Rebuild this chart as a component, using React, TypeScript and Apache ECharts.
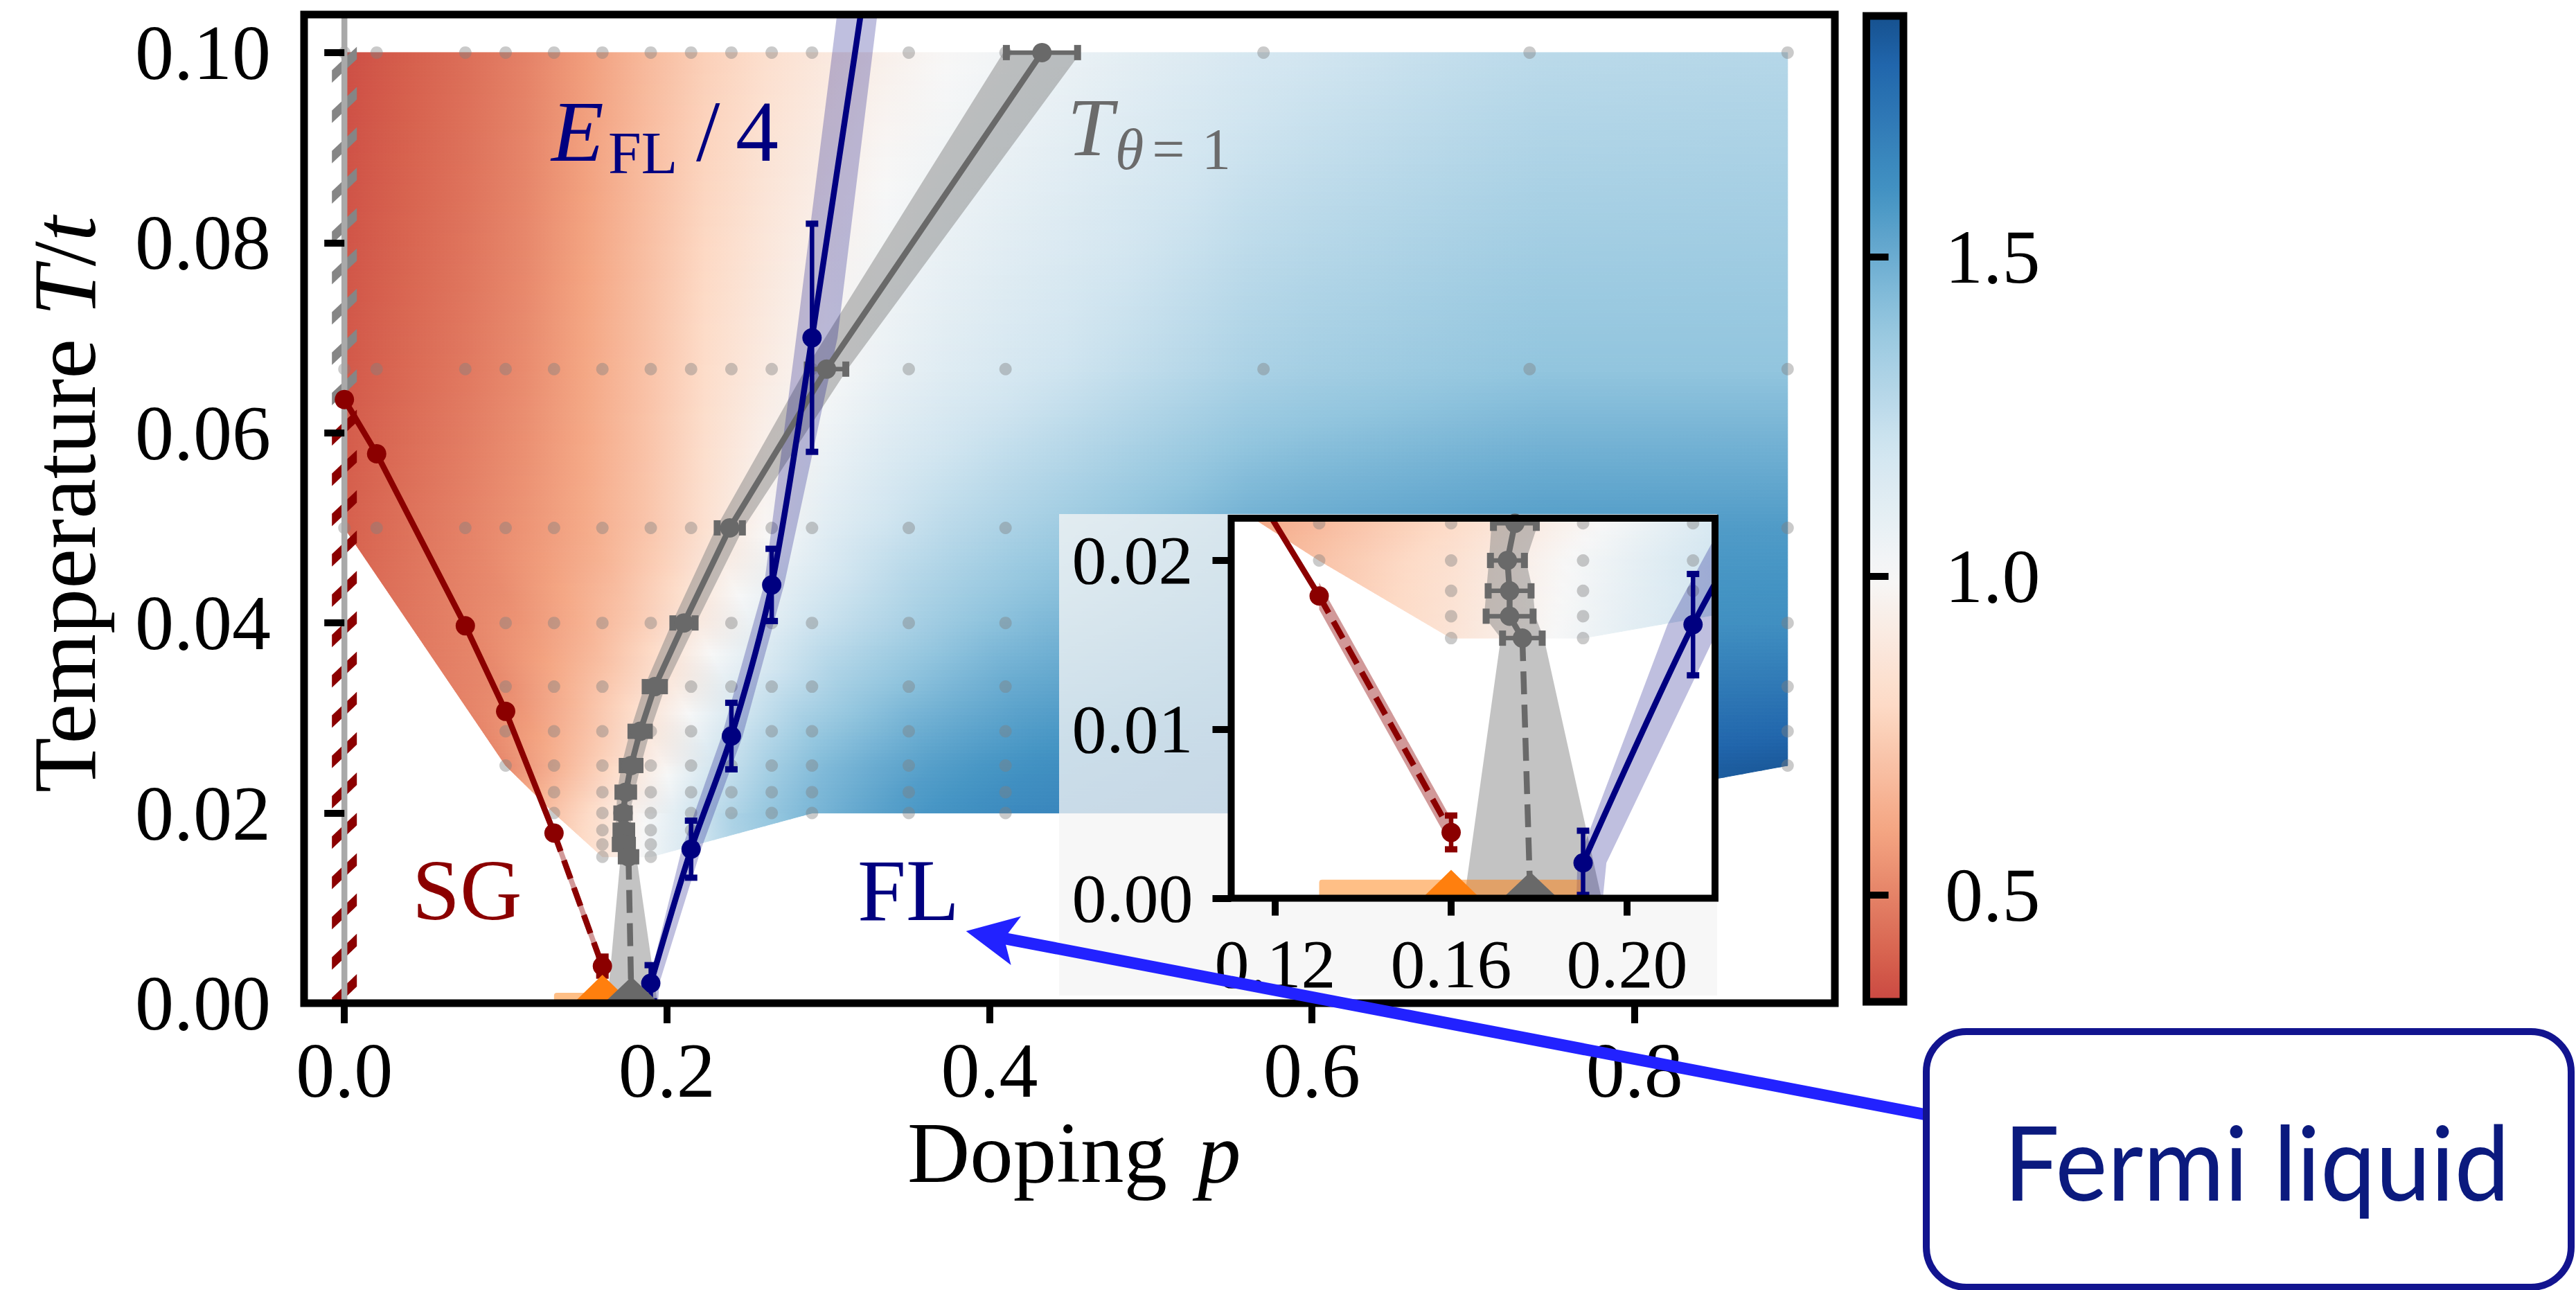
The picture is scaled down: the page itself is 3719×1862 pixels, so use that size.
import React, { useEffect, useRef } from 'react';
import * as echarts from 'echarts';

const SERIF = '"Liberation Serif", "Times New Roman", serif';
const SANS = 'Lato, "Noto Sans", sans-serif';
const GRAY = '#696969';
const NAVY = '#000080';
const DRED = '#8b0000';
const ORANGE = '#ff7f0e';

// ---------- axis ranges & ticks ----------
const mainX = [-0.025, 0.9243];
const mainY = [0, 0.104];
const insetX = [0.11, 0.22];
const insetY = [0, 0.0225];
const cbarRange = [0.333, 1.878];
const mainXTicks = [0, 0.2, 0.4, 0.6, 0.8];
const mainYTicks = [0, 0.02, 0.04, 0.06, 0.08, 0.1];
const insetXTicks = [0.12, 0.16, 0.2];
const insetYTicks = [0, 0.01, 0.02];
const cbarTicks = [0.5, 1.0, 1.5];

// ---------- simulation grid points (gray dots) ----------
const dotRowT = [0.1, 0.0667, 0.05, 0.04, 0.0333, 0.0286, 0.025, 0.0222, 0.02, 0.0182, 0.0167, 0.0154];
const dotRowP = [
  [0, 0.02, 0.075, 0.1, 0.13, 0.16, 0.19, 0.215, 0.24, 0.265, 0.29, 0.35, 0.41, 0.57, 0.735, 0.895],
  [0, 0.02, 0.075, 0.1, 0.13, 0.16, 0.19, 0.215, 0.24, 0.265, 0.29, 0.35, 0.41, 0.57, 0.735, 0.895],
  [0, 0.02, 0.075, 0.1, 0.13, 0.16, 0.19, 0.215, 0.24, 0.265, 0.29, 0.35, 0.41, 0.57, 0.735, 0.895],
  [0.075, 0.1, 0.13, 0.16, 0.19, 0.215, 0.24, 0.265, 0.29, 0.35, 0.41, 0.57, 0.735, 0.895],
  [0.1, 0.13, 0.16, 0.19, 0.215, 0.24, 0.265, 0.29, 0.35, 0.41, 0.57, 0.735, 0.895],
  [0.1, 0.13, 0.16, 0.19, 0.215, 0.24, 0.265, 0.29, 0.35, 0.41, 0.57, 0.735, 0.895],
  [0.1, 0.13, 0.16, 0.19, 0.215, 0.24, 0.265, 0.29, 0.35, 0.41, 0.57, 0.735, 0.895],
  [0.13, 0.16, 0.19, 0.215, 0.24, 0.265, 0.29, 0.35, 0.41, 0.57, 0.735],
  [0.13, 0.16, 0.19, 0.215, 0.24, 0.265, 0.29, 0.35, 0.41, 0.57, 0.735],
  [0.16, 0.19, 0.215],
  [0.16, 0.19],
  [0.16, 0.19],
];

// ---------- colour field (value on a coarse grid) ----------
const fieldP = [0, 0.1, 0.16, 0.2, 0.24, 0.29, 0.35, 0.41, 0.57, 0.735, 0.9];
const fieldT = [0.0154, 0.02, 0.025, 0.04, 0.05, 0.0667, 0.1];
const fieldV = [
  [0.5, 0.6, 0.86, 1.1, 1.3, 1.45, 1.58, 1.65, 1.72, 1.78, 1.86],
  [0.45, 0.58, 0.84, 1.08, 1.32, 1.46, 1.58, 1.64, 1.72, 1.8, 1.87],
  [0.43, 0.52, 0.76, 0.98, 1.26, 1.43, 1.54, 1.6, 1.7, 1.78, 1.85],
  [0.42, 0.53, 0.67, 0.8, 1.02, 1.21, 1.33, 1.43, 1.56, 1.6, 1.62],
  [0.4, 0.53, 0.64, 0.75, 0.9, 1.1, 1.24, 1.32, 1.5, 1.56, 1.57],
  [0.38, 0.5, 0.63, 0.74, 0.86, 0.98, 1.1, 1.17, 1.33, 1.4, 1.4],
  [0.35, 0.47, 0.6, 0.71, 0.79, 0.88, 0.97, 1.03, 1.18, 1.27, 1.29],
];
// outline of the sampled region
const hullP = [0, 0.895, 0.895, 0.735, 0.29, 0.19, 0.16, 0.13, 0.1, 0];
const hullT = [0.1, 0.1, 0.025, 0.02, 0.02, 0.0154, 0.0154, 0.02, 0.025, 0.05];

// ---------- SG line ----------
const sgP = [0, 0.02, 0.075, 0.1, 0.13, 0.16];
const sgT = [0.0635, 0.0578, 0.0397, 0.0307, 0.0179, 0.0039];
const sgErr = [0, 0, 0, 0, 0, 0.001];
const sgBandP = [0.13, 0.16];
const sgBandLo = [0.0171, 0.0031];
const sgBandHi = [0.0187, 0.0047];

// ---------- T_theta=1 line ----------
const thP = [0.4326, 0.299, 0.239, 0.2106, 0.1925, 0.1834, 0.1778, 0.1745, 0.1728, 0.1733, 0.1733, 0.1762];
const thT = [0.1, 0.0667, 0.05, 0.04, 0.0333, 0.0286, 0.025, 0.0222, 0.02, 0.0182, 0.0167, 0.0154];
const thErr = [0.024, 0.013, 0.0085, 0.0075, 0.0065, 0.0062, 0.006, 0.0053, 0.0042, 0.0053, 0.0058, 0.0049];
const thEndP = [0.1762, 0.178];
const thEndT = [0.0154, 0];
const thBottomP = 0.1786;
const thBottomW = 0.0156;

// ---------- E_FL/4 line ----------
const eP = [0.19, 0.215, 0.24, 0.265, 0.29, 0.35];
const eT = [0.0021, 0.0162, 0.0281, 0.044, 0.07, 0.138];
const eErr = [0.0019, 0.003, 0.0035, 0.0038, 0.012, 0];
const eBandT = [0, 0.0021, 0.0162, 0.0281, 0.044, 0.07, 0.104, 0.14];
const eBandC = [0.1915, 0.192, 0.2152, 0.2405, 0.2665, 0.293, 0.318, 0.352];
const eBandW = [0.003, 0.0033, 0.006, 0.0065, 0.0062, 0.0128, 0.0125, 0.012];

// ---------- T=0 markers ----------
const qcpP = [0.16, 0.178];
const orangeBarP = [0.13, 0.19];
const orangeBarT = [-0.0011, 0.0011];

// ---------- hatch at p=0 ----------
const hatchFrom = [0, 0.0635];
const hatchTo = [0.0635, 0.1];

// ---------- layout ----------
const MAIN = { left: 439, top: 21, width: 2210, height: 1427 };
const INSET = { left: 1777.5, top: 748, width: 698.5, height: 548.6 };
const CBAR = { left: 2694.5, top: 23, width: 53.5, height: 1423 };
const LW = 8.5;

// ---------- colour map (RdBu, norm 0..2) ----------
const RDBU = ['#67001f', '#b2182b', '#d6604d', '#f4a582', '#fddbc7', '#f7f7f7', '#d1e5f0', '#92c5de', '#4393c3', '#2166ac', '#053061'];
const hex = (h: string) => [1, 3, 5].map((i) => parseInt(h.slice(i, i + 2), 16));
const RGB = RDBU.map(hex);
function cmap(v: number) {
  const x = Math.min(1, Math.max(0, v / 2)) * 10;
  const i = Math.min(9, Math.floor(x));
  const f = x - i;
  const a = RGB[i], b = RGB[i + 1];
  const c = a.map((u, k) => Math.round(u + (b[k] - u) * f));
  return `rgb(${c[0]},${c[1]},${c[2]})`;
}
function seg(arr: number[], x: number): [number, number] {
  if (x <= arr[0]) return [0, 0];
  if (x >= arr[arr.length - 1]) return [arr.length - 2, 1];
  let i = 0;
  while (i < arr.length - 2 && x > arr[i + 1]) i++;
  return [i, (x - arr[i]) / (arr[i + 1] - arr[i])];
}
function fieldValue(p: number, t: number) {
  const [ix, fx] = seg(fieldP, p);
  const [iy, fy] = seg(fieldT, t);
  const v00 = fieldV[iy][ix], v01 = fieldV[iy][ix + 1];
  const v10 = fieldV[iy + 1][ix], v11 = fieldV[iy + 1][ix + 1];
  const a = v00 + (v01 - v00) * fx;
  const b = v10 + (v11 - v10) * fx;
  return a + (b - a) * fy;
}
function crossings(t: number) {
  const xs: number[] = [];
  const n = hullP.length;
  for (let i = 0; i < n; i++) {
    const j = (i + 1) % n;
    const t1 = hullT[i], t2 = hullT[j];
    if ((t1 - t) * (t2 - t) < 0) {
      xs.push(hullP[i] + ((t - t1) / (t2 - t1)) * (hullP[j] - hullP[i]));
    }
  }
  return xs.sort((a, b) => a - b);
}

const makeFieldRender = (pr: number[], tr: number[]) => (params: any, api: any) => {
  const pxPerT = Math.abs(api.size([0, 1])[1]);
  const t0 = Math.max(tr[0], Math.min(...hullT));
  const t1 = Math.min(tr[1], Math.max(...hullT));
  const step = 5 / pxPerT;
  const levels: number[] = [];
  for (let t = t0; t < t1; t += step) levels.push(t);
  levels.push(t1);
  hullT.forEach((t) => { if (t > t0 && t < t1) levels.push(t); });
  levels.sort((a, b) => a - b);
  const children: any[] = [];
  for (let k = 0; k < levels.length - 1; k++) {
    const ta = levels[k], tb = levels[k + 1];
    if (tb - ta < 1e-9) continue;
    const ca = crossings(ta + 1e-9), cb = crossings(tb - 1e-9);
    if (ca.length !== cb.length) continue;
    const tm = (ta + tb) / 2;
    for (let j = 0; j + 1 < ca.length; j += 2) {
      const pts = [api.coord([ca[j], ta]), api.coord([ca[j + 1], ta]), api.coord([cb[j + 1], tb]), api.coord([cb[j], tb])];
      const pa = Math.max(pr[0], Math.min(ca[j], cb[j]));
      const pb = Math.min(pr[1], Math.max(ca[j + 1], cb[j + 1]));
      if (pb <= pa) continue;
      const xa = api.coord([pa, tm])[0], xb = api.coord([pb, tm])[0];
      const N = 24;
      const stops: any[] = [];
      for (let s = 0; s <= N; s++) {
        const p = pa + ((pb - pa) * s) / N;
        stops.push({ offset: s / N, color: cmap(fieldValue(p, tm)) });
      }
      const grad = { type: 'linear', x: xa, y: 0, x2: xb, y2: 0, colorStops: stops, global: true };
      children.push({ type: 'polygon', shape: { points: pts }, style: { fill: grad, stroke: grad, lineWidth: 1 } });
    }
  }
  return { type: 'group', children };
};

const polyRender = (pts: number[][], fill: string) => (params: any, api: any) => ({
  type: 'polygon',
  shape: { points: pts.map((q) => api.coord(q)) },
  style: { fill },
});

const vErrRender = (color: string) => (params: any, api: any) => {
  const p = api.value(0), t = api.value(1), e = api.value(2);
  const a = api.coord([p, t + e]), b = api.coord([p, t - e]);
  const hw = 9;
  return {
    type: 'group',
    children: [
      { type: 'line', shape: { x1: a[0], y1: a[1], x2: b[0], y2: b[1] }, style: { stroke: color, lineWidth: 6.5 } },
      { type: 'line', shape: { x1: a[0] - hw, y1: a[1], x2: a[0] + hw, y2: a[1] }, style: { stroke: color, lineWidth: 9 } },
      { type: 'line', shape: { x1: b[0] - hw, y1: b[1], x2: b[0] + hw, y2: b[1] }, style: { stroke: color, lineWidth: 9 } },
    ],
  };
};
const hErrRender = (color: string) => (params: any, api: any) => {
  const p = api.value(0), t = api.value(1), e = api.value(2);
  const a = api.coord([p - e, t]), b = api.coord([p + e, t]);
  const hh = 11;
  return {
    type: 'group',
    children: [
      { type: 'line', shape: { x1: a[0], y1: a[1], x2: b[0], y2: b[1] }, style: { stroke: color, lineWidth: 6.5 } },
      { type: 'line', shape: { x1: a[0], y1: a[1] - hh, x2: a[0], y2: a[1] + hh }, style: { stroke: color, lineWidth: 10 } },
      { type: 'line', shape: { x1: b[0], y1: b[1] - hh, x2: b[0], y2: b[1] + hh }, style: { stroke: color, lineWidth: 10 } },
    ],
  };
};
const triRender = (params: any, api: any) => {
  const p = api.value(0);
  const idx = params.dataIndex;
  const c = api.coord([p, 0]);
  const apex = idx === 0 ? 41 : 38;
  const hb = idx === 0 ? 42 : 40;
  return {
    type: 'polygon',
    shape: { points: [[c[0] - hb, c[1]], [c[0], c[1] - apex], [c[0] + hb, c[1]]] },
    style: { fill: idx === 0 ? ORANGE : GRAY },
  };
};
const hatchRender = (params: any, api: any) => {
  const tA = api.value(0), tB = api.value(1);
  const color = params.dataIndex === 0 ? DRED : '#858585';
  const o = api.coord([0, 0]);
  const yA = api.coord([0, tA])[1], yB = api.coord([0, tB])[1];
  const x0 = o[0];
  const children: any[] = [];
  for (let k = 0; k < 40; k++) {
    const yr = o[1] - 33 - k * 58.2;
    const yc = yr + 17;
    if (yc > yA || yc < yB) continue;
    children.push({
      type: 'polygon',
      shape: { points: [[x0 - 18, yr + 34 - 9], [x0 - 18, yr + 34 + 9], [x0 + 18, yr + 9], [x0 + 18, yr - 9]] },
      style: { fill: color },
    });
  }
  return { type: 'group', children };
};

const dotData: number[][] = [];
dotRowT.forEach((t, i) => dotRowP[i].forEach((p) => dotData.push([p, t])));

function thetaBandPts() {
  const pts: number[][] = [[thBottomP - thBottomW, 0]];
  for (let i = thP.length - 1; i >= 0; i--) pts.push([thP[i] - thErr[i], thT[i]]);
  for (let i = 0; i < thP.length; i++) pts.push([thP[i] + thErr[i], thT[i]]);
  pts.push([thBottomP + thBottomW, 0]);
  return pts;
}
function eBandPts() {
  const pts: number[][] = [];
  for (let i = 0; i < eBandT.length; i++) pts.push([eBandC[i] - eBandW[i], eBandT[i]]);
  for (let i = eBandT.length - 1; i >= 0; i--) pts.push([eBandC[i] + eBandW[i], eBandT[i]]);
  return pts;
}
function sgBandPts() {
  return [[sgBandP[0], sgBandHi[0]], [sgBandP[1], sgBandHi[1]], [sgBandP[1], sgBandLo[1]], [sgBandP[0], sgBandLo[0]]];
}

function plotSeries(ax: number, zb: number, pr: number[], tr: number[], withHatch: boolean) {
  const c = { xAxisIndex: ax, yAxisIndex: ax, silent: true, animation: false };
  const list: any[] = [
    { ...c, type: 'custom', z: zb + 1, clip: true, data: [[0, 0]], renderItem: makeFieldRender(pr, tr) },
    { ...c, type: 'scatter', z: zb + 2, data: dotData, symbolSize: 18, itemStyle: { color: 'rgba(128,128,128,0.52)' } },
  ];
  if (withHatch) {
    list.push({ ...c, type: 'custom', z: zb + 3, clip: true, data: hatchFrom.map((f, i) => [f, hatchTo[i]]), renderItem: hatchRender });
    list.push({ ...c, type: 'line', z: zb + 3, data: [[0, 0], [0, 0.104]], symbol: 'none', lineStyle: { color: '#a9a9a9', width: 8.5 } });
  }
  list.push(
    { ...c, type: 'custom', z: zb + 4, clip: true, data: [[0, 0]], renderItem: polyRender(thetaBandPts(), 'rgba(128,128,128,0.47)') },
    { ...c, type: 'custom', z: zb + 4, clip: true, data: [[0, 0]], renderItem: polyRender(eBandPts(), 'rgba(0,0,128,0.25)') },
    { ...c, type: 'custom', z: zb + 4, clip: true, data: [[0, 0]], renderItem: polyRender(sgBandPts(), 'rgba(139,0,0,0.4)') },
    {
      ...c, type: 'custom', z: zb + 5, clip: true, data: [[0, 0]],
      renderItem: (params: any, api: any) => {
        const a = api.coord([orangeBarP[0], orangeBarT[1]]), b = api.coord([orangeBarP[1], orangeBarT[0]]);
        return { type: 'rect', shape: { x: a[0], y: a[1], width: b[0] - a[0], height: b[1] - a[1], r: 4 }, style: { fill: 'rgba(255,127,14,0.5)' } };
      },
    },
    // theta line
    { ...c, type: 'line', z: zb + 6, clip: true, data: thP.map((p, i) => [p, thT[i]]), symbol: 'circle', symbolSize: 28, showSymbol: true, lineStyle: { color: GRAY, width: LW }, itemStyle: { color: GRAY } },
    { ...c, type: 'line', z: zb + 6, clip: true, data: thEndP.map((p, i) => [p, thEndT[i]]), symbol: 'none', lineStyle: { color: GRAY, width: LW, type: [33, 15] } },
    { ...c, type: 'custom', z: zb + 6, clip: true, data: thP.map((p, i) => [p, thT[i], thErr[i] * 0.92]), renderItem: hErrRender(GRAY) },
    // SG line
    { ...c, type: 'line', z: zb + 6, clip: true, data: sgP.slice(0, 5).map((p, i) => [p, sgT[i]]), symbol: 'circle', symbolSize: 28, showSymbol: true, lineStyle: { color: DRED, width: LW }, itemStyle: { color: DRED } },
    { ...c, type: 'line', z: zb + 6, clip: true, data: [{ value: [sgP[4], sgT[4]], symbol: 'none' }, [sgP[5], sgT[5]]], symbol: 'circle', symbolSize: 28, showSymbol: true, lineStyle: { color: DRED, width: LW, type: [28, 14] }, itemStyle: { color: DRED } },
    { ...c, type: 'custom', z: zb + 6, clip: true, data: sgP.map((p, i) => [p, sgT[i], sgErr[i]]).filter((d) => d[2] > 0), renderItem: vErrRender(DRED) },
    // E_FL/4 line
    { ...c, type: 'line', z: zb + 7, clip: true, smooth: 0.3, data: eP.map((p, i) => (i === eP.length - 1 ? { value: [p, eT[i]], symbol: 'none' } : [p, eT[i]])), symbol: 'circle', symbolSize: 28, showSymbol: true, lineStyle: { color: NAVY, width: LW }, itemStyle: { color: NAVY } },
    { ...c, type: 'custom', z: zb + 7, clip: true, data: eP.map((p, i) => [p, eT[i], eErr[i]]).filter((d) => d[2] > 0), renderItem: vErrRender(NAVY) },
    // T=0 triangles
    { ...c, type: 'custom', z: zb + 8, clip: true, data: qcpP.map((p) => [p, 0]), renderItem: triRender },
  );
  return list;
}

const valAxis = (gridIndex: number, min: number, max: number, ticks: number[], dec: number, fs: number, margin: number, len: number, z: number, extra: any = {}) => ({
  type: 'value', gridIndex, min, max, z,
  axisLine: { show: false },
  splitLine: { show: false },
  axisTick: { show: true, inside: false, length: len, customValues: ticks, lineStyle: { color: '#000', width: 10 } },
  axisLabel: { show: true, customValues: ticks, formatter: (v: number) => v.toFixed(dec), fontFamily: SERIF, fontSize: fs, color: '#000', margin },
  ...extra,
});

const txt = (text: string, x: number, y: number, fs: number, fill: string, italic = false, extra: any = {}) => ({
  type: 'text', x, y, z: 9,
  style: { text, fontSize: fs, fontFamily: SERIF, fontStyle: italic ? 'italic' : 'normal', fill, align: 'left', verticalAlign: 'middle', ...extra },
});

function buildOption() {
  const cbarSeries = {
    type: 'custom', xAxisIndex: 2, yAxisIndex: 2, z: 2, silent: true, data: [[0, 0]],
    renderItem: (params: any, api: any) => {
      const a = api.coord([0, cbarRange[1]]), b = api.coord([1, cbarRange[0]]);
      const stops: any[] = [];
      for (let s = 0; s <= 40; s++) {
        const v = cbarRange[1] - ((cbarRange[1] - cbarRange[0]) * s) / 40;
        stops.push({ offset: s / 40, color: cmap(v) });
      }
      return { type: 'rect', shape: { x: a[0], y: a[1], width: b[0] - a[0], height: b[1] - a[1] }, style: { fill: new echarts.graphic.LinearGradient(0, 0, 0, 1, stops) } };
    },
  };
  const tip = [1394.7, 1343.9];
  const u = [0.982, 0.188];
  const n = [-0.188, 0.982];
  const head = [
    tip,
    [tip[0] + 74 * u[0] - 36 * n[0], tip[1] + 74 * u[1] - 36 * n[1]],
    [tip[0] + 56 * u[0], tip[1] + 56 * u[1]],
    [tip[0] + 73 * u[0] + 36 * n[0], tip[1] + 73 * u[1] + 36 * n[1]],
  ];
  return {
    animation: false,
    backgroundColor: '#ffffff',
    grid: [
      { left: MAIN.left, top: MAIN.top, width: MAIN.width, height: MAIN.height, show: false },
      { left: INSET.left, top: INSET.top, width: INSET.width, height: INSET.height, show: true, backgroundColor: '#ffffff', borderWidth: 0, z: 16 },
      { left: CBAR.left, top: CBAR.top, width: CBAR.width, height: CBAR.height, show: false },
    ],
    xAxis: [
      valAxis(0, mainX[0], mainX[1], mainXTicks, 1, 112, 41, 29, 10),
      valAxis(1, insetX[0], insetX[1], insetXTicks, 2, 100, 45, 25, 30),
      { type: 'value', gridIndex: 2, min: 0, max: 1, show: false },
    ],
    yAxis: [
      valAxis(0, mainY[0], mainY[1], mainYTicks, 2, 112, 48, 29, 10),
      valAxis(1, insetY[0], insetY[1], insetYTicks, 2, 100, 55, 27, 30),
      valAxis(2, cbarRange[0], cbarRange[1], cbarTicks, 1, 110, 60, 32, 10, { position: 'right' }),
    ],
    series: [
      ...plotSeries(0, 0, [mainX[0], mainX[1]], [mainY[0], mainY[1]], true),
      ...plotSeries(1, 20, [0.105, 0.225], [0, 0.023], false),
      cbarSeries,
    ],
    graphic: [
      // frames
      { type: 'rect', z: 12, shape: { x: MAIN.left, y: MAIN.top, width: MAIN.width, height: MAIN.height }, style: { fill: 'none', stroke: '#000', lineWidth: 11 } },
      { type: 'rect', z: 12, shape: { x: CBAR.left, y: CBAR.top, width: CBAR.width, height: CBAR.height }, style: { fill: 'none', stroke: '#000', lineWidth: 11 } },
      { type: 'rect', z: 15, shape: { x: 1529, y: 742, width: 950, height: 695 }, style: { fill: 'rgba(245,245,245,0.77)' } },
      { type: 'rect', z: 29, shape: { x: INSET.left, y: INSET.top, width: INSET.width, height: INSET.height }, style: { fill: 'none', stroke: '#000', lineWidth: 10 } },
      // in-plot labels
      txt('E', 796, 190, 124, NAVY, true),
      txt('FL', 878, 221, 86, NAVY),
      txt('/', 1005, 190, 124, NAVY),
      txt('4', 1062, 190, 124, NAVY),
      txt('T', 1541, 184, 119, '#6b6b6b', true),
      txt('θ', 1610, 215, 84, '#6b6b6b', true),
      txt('=', 1687, 215, 84, '#6b6b6b', false, { align: 'center' }),
      txt('1', 1735, 215, 84, '#6b6b6b'),
      txt('SG', 595, 1285, 124, DRED),
      txt('FL', 1238, 1285, 126, NAVY),
      // axis titles
      txt('Doping', 1310, 1664, 125, '#000'),
      txt('p', 1729, 1664, 125, '#000', true),
      {
        type: 'text', x: 93, y: 728, rotation: Math.PI / 2, z: 9,
        style: {
          text: '{a|Temperature }{b|T}{a|/}{b|t}',
          align: 'center', verticalAlign: 'middle', fill: '#000',
          rich: {
            a: { fontFamily: SERIF, fontSize: 130, fill: '#000' },
            b: { fontFamily: SERIF, fontSize: 130, fontStyle: 'italic', fill: '#000' },
          },
        },
      },
      // arrow + Fermi liquid box
      { type: 'line', z: 50, shape: { x1: tip[0] + 50 * u[0], y1: tip[1] + 50 * u[1], x2: 2781, y2: 1609 }, style: { stroke: '#2222ff', lineWidth: 17 } },
      { type: 'polygon', z: 50, shape: { points: head }, style: { fill: '#2222ff' } },
      { type: 'rect', z: 51, shape: { x: 2781, y: 1489, width: 931, height: 369, r: 58 }, style: { fill: '#ffffff', stroke: '#12148f', lineWidth: 10 } },
      { type: 'text', z: 52, x: 3258, y: 1675, scaleX: 0.95, style: { text: 'Fermi liquid', fontFamily: SANS, fontSize: 150, fill: '#0b1a7e', align: 'center', verticalAlign: 'middle' } },
    ],
  };
}

export default function App() {
  const ref = useRef<HTMLDivElement>(null);
  useEffect(() => {
    const chart = echarts.init(ref.current as HTMLDivElement, null, { renderer: 'svg', width: 3719, height: 1862 });
    chart.setOption(buildOption() as any);
    return () => chart.dispose();
  }, []);
  return <div ref={ref} style={{ position: 'fixed', left: 0, top: 0, width: 3719, height: 1862, background: '#fff' }} />;
}
